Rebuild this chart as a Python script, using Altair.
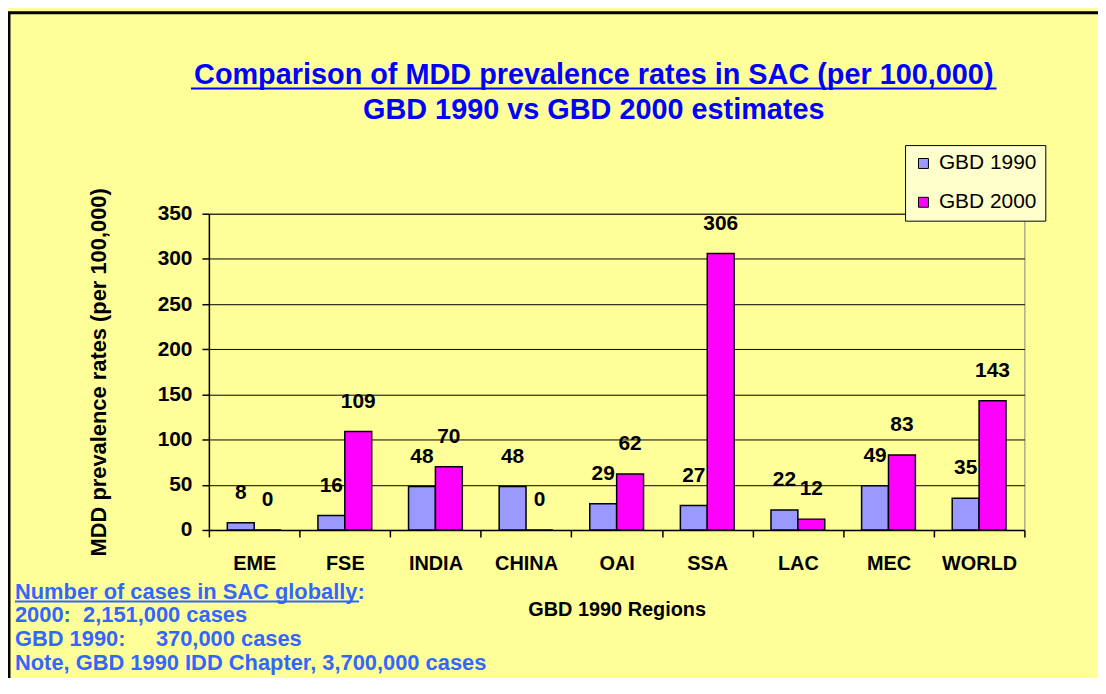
import altair as alt
import pandas as pd

# ---- data ----
regions = ["EME", "FSE", "INDIA", "CHINA", "OAI", "SSA", "LAC", "MEC", "WORLD"]
gbd1990 = [8, 16, 48, 48, 29, 27, 22, 49, 35]
gbd2000 = [0, 109, 70, 0, 62, 306, 12, 83, 143]
series = ["GBD 1990", "GBD 2000"]
colors = ["#9999FF", "#FF00FF"]
y_ticks = [0, 50, 100, 150, 200, 250, 300, 350]

NB = "\u00a0"
title_line1 = "Comparison of MDD prevalence rates in SAC (per 100,000)"
title_line2 = "GBD 1990 vs GBD 2000 estimates"
note_lines = [
    "Number of cases in SAC globally:",
    "2000:" + NB + NB + "2,151,000 cases",
    "GBD 1990:" + NB * 5 + "370,000 cases",
    "Note, GBD 1990 IDD Chapter, 3,700,000 cases",
]

rows = []
for r, a, b in zip(regions, gbd1990, gbd2000):
    rows.append({"Region": r, "Series": series[0], "Value": a})
    rows.append({"Region": r, "Series": series[1], "Value": b})
df = pd.DataFrame(rows)
one = pd.DataFrame({"k": [0]})

FONT = "Liberation Sans"

# border around the yellow panel
border = alt.Chart(one).mark_rect(fillOpacity=0, stroke="black", strokeWidth=3).encode(
    x=alt.value(-201), x2=alt.value(1000), y=alt.value(-202), y2=alt.value(700)
)

base = alt.Chart(df).encode(
    x=alt.X(
        "Region:N",
        sort=regions,
        scale=alt.Scale(paddingInner=0, paddingOuter=0),
        axis=alt.Axis(
            title="GBD 1990 Regions",
            labelAngle=0,
            tickBand="extent",
            labelFontSize=20,
            labelPadding=17,
            titleFontSize=20,
            titlePadding=26,
            grid=False,
        ),
    ),
    xOffset=alt.XOffset("Series:N", sort=series, scale=alt.Scale(paddingOuter=0.685, paddingInner=0)),
    y=alt.Y(
        "Value:Q",
        scale=alt.Scale(domain=[0, 350], nice=False),
        axis=alt.Axis(
            title="MDD prevalence rates (per 100,000)",
            values=y_ticks,
            labelFontSize=21,
            labelPadding=10,
            titleFontSize=22,
            titlePadding=47,
            grid=True,
            gridColor="black",
            gridWidth=1,
        ),
    ),
)

bars = base.mark_bar(stroke="black", strokeWidth=1.5).encode(
    color=alt.Color(
        "Series:N",
        sort=series,
        scale=alt.Scale(domain=series, range=colors),
        legend=alt.Legend(
            title=None,
            orient="none",
            legendX=700,
            legendY=-69,
            fillColor="#FFFFCC",
            strokeColor="black",
            padding=8,
            labelFontSize=21,
            labelFont=FONT,
            labelColor="black",
            labelOffset=5,
            symbolType="square",
            symbolSize=100,
            symbolStrokeColor="black",
            symbolStrokeWidth=1,
            rowPadding=17,
        ),
    )
)

labels = base.mark_text(
    dy=-30, fontSize=21, fontWeight="bold", font=FONT, color="black", baseline="middle"
).encode(text="Value:Q")

t1 = alt.Chart(one).mark_text(
    fontSize=29, fontWeight="bold", font=FONT, color="#0000FF", align="center", baseline="alphabetic"
).encode(x=alt.value(387), y=alt.value(-130), text=alt.value(title_line1))
t1u = alt.Chart(one).mark_rule(color="#0000FF", strokeWidth=2).encode(
    x=alt.value(-18), x2=alt.value(792), y=alt.value(-126)
)
t2 = alt.Chart(one).mark_text(
    fontSize=29, fontWeight="bold", font=FONT, color="#0000FF", align="center", baseline="alphabetic"
).encode(x=alt.value(387), y=alt.value(-95), text=alt.value(title_line2))

note_y = [387, 411, 435, 459]
notes = []
for txt, yy in zip(note_lines, note_y):
    notes.append(
        alt.Chart(one).mark_text(
            fontSize=22, fontWeight="bold", font=FONT, color="#3366FF", align="left", baseline="alphabetic"
        ).encode(x=alt.value(-195), y=alt.value(yy), text=alt.value(txt))
    )
note_u = alt.Chart(one).mark_rule(color="#3366FF", strokeWidth=2).encode(
    x=alt.value(-195), x2=alt.value(151), y=alt.value(390)
)

chart = alt.layer(border, bars, labels, t1, t1u, t2, *notes, note_u).properties(
    width=820,
    height=318,
    autosize=alt.AutoSizeParams(type="none"),
    padding={"left": 202, "top": 205, "right": 74, "bottom": 147},
    background="#FFFF99",
).configure_view(
    stroke="#808080", strokeWidth=1
).configure_axis(
    labelFont=FONT,
    titleFont=FONT,
    labelFontWeight="bold",
    titleFontWeight="bold",
    labelColor="black",
    titleColor="black",
    domainColor="black",
    domainWidth=1.5,
    tickColor="black",
    tickWidth=1.5,
    tickSize=7,
)

chart.save("out.html", embed_options={"renderer": "svg", "actions": False})
